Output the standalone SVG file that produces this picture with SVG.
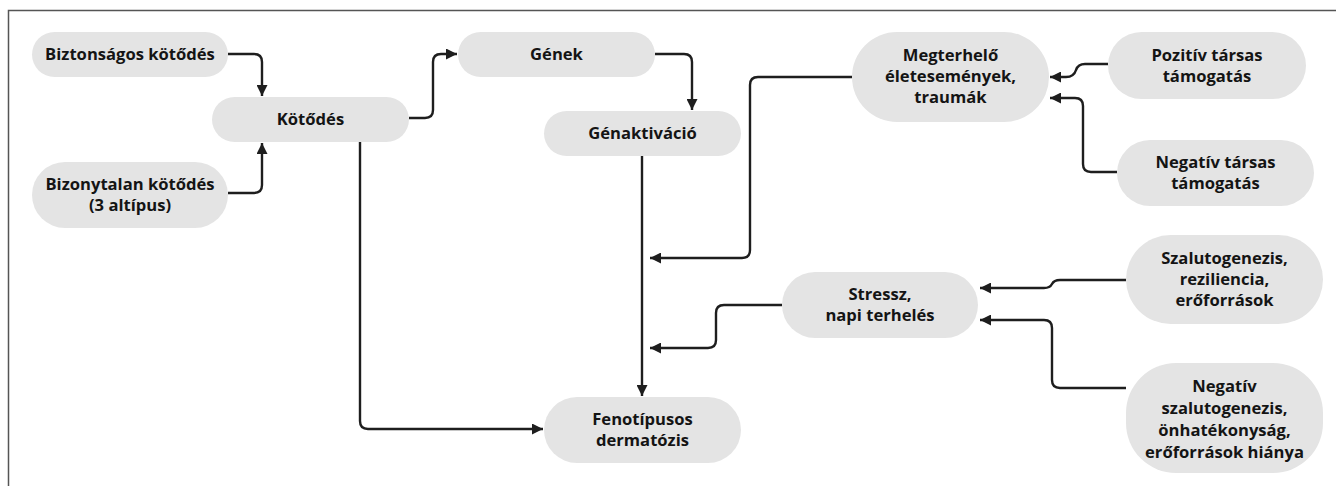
<svg xmlns="http://www.w3.org/2000/svg" width="1336" height="486" viewBox="0 0 1336 486">
<style>
.n{fill:#e4e4e4}
.t{font-family:"Open Sans","Noto Sans",sans-serif;font-weight:bold;font-size:16.6px;fill:#141414;text-anchor:middle}
.c{fill:none;stroke:#1e1e1e;stroke-width:2.4}
</style>
<defs>
<marker id="a" viewBox="0 0 10 10" refX="10" refY="5" markerWidth="12" markerHeight="11" markerUnits="userSpaceOnUse" orient="auto">
<path d="M0,0 L10,5 L0,10 z" fill="#1e1e1e"/>
</marker>
</defs>
<rect width="1336" height="486" fill="#fff"/>
<path d="M8.5,486 V10.5 H1336" fill="none" stroke="#555" stroke-width="1.5"/>
<g id="connectors">
<path class="c" marker-end="url(#a)" d="M228,54 H254 Q262,54 262,62 V96"/>
<path class="c" marker-end="url(#a)" d="M228,193 H254 Q262,193 262,185 V143"/>
<path class="c" marker-end="url(#a)" d="M409,118 H425 Q433,118 433,110 V62 Q433,54 441,54 H457"/>
<path class="c" marker-end="url(#a)" d="M655,54 H684 Q692,54 692,62 V110"/>
<path class="c" marker-end="url(#a)" d="M642,156 V396"/>
<path class="c" marker-end="url(#a)" d="M360,142 V421 Q360,429 368,429 H543"/>
<path class="c" marker-end="url(#a)" d="M852,77 H758 Q750,77 750,85 V250 Q750,258 742,258 H650"/>
<path class="c" marker-end="url(#a)" d="M782,305 H724 Q716,305 716,313 V340 Q716,348 708,348 H650"/>
<path class="c" marker-end="url(#a)" d="M1108,64 H1085 Q1078,64 1076,70 Q1074,77 1066,77 H1050"/>
<path class="c" marker-end="url(#a)" d="M1117,172 H1091 Q1083,172 1083,164 V106 Q1083,98 1075,98 H1050"/>
<path class="c" marker-end="url(#a)" d="M1126,280 H1060 Q1054,280 1052,284 Q1050,288 1044,288 H980"/>
<path class="c" marker-end="url(#a)" d="M1126,388 H1060 Q1052,388 1052,380 V328 Q1052,320 1044,320 H980"/>
</g>
<g id="biztonsagos"><rect class="n" x="32" y="32" width="196" height="45" rx="22.5"/><text class="t" x="130" y="60">Biztonságos kötődés</text></g>
<g id="bizonytalan"><rect class="n" x="32" y="162" width="196" height="66" rx="33"/><text class="t" x="130" y="189.5">Bizonytalan kötődés</text><text class="t" x="130" y="210.5">(3 altípus)</text></g>
<g id="kotodes"><rect class="n" x="212" y="97" width="197" height="45" rx="22.5"/><text class="t" x="310.5" y="125">Kötődés</text></g>
<g id="genek"><rect class="n" x="458" y="32" width="197" height="45" rx="22.5"/><text class="t" x="556.5" y="60">Gének</text></g>
<g id="genaktivacio"><rect class="n" x="544" y="111" width="197" height="45" rx="22.5"/><text class="t" x="642.5" y="139">Génaktiváció</text></g>
<g id="megterhelo"><rect class="n" x="852" y="32" width="197" height="90" rx="45"/><text class="t" x="950.5" y="60.5">Megterhelő</text><text class="t" x="950.5" y="81.5">életesemények,</text><text class="t" x="950.5" y="102.5">traumák</text></g>
<g id="pozitiv"><rect class="n" x="1108" y="32" width="198" height="67" rx="33.5"/><text class="t" x="1207" y="60.5">Pozitív társas</text><text class="t" x="1207" y="81.5">támogatás</text></g>
<g id="negativtarsas"><rect class="n" x="1117" y="140" width="197" height="66" rx="33"/><text class="t" x="1215.5" y="167.5">Negatív társas</text><text class="t" x="1215.5" y="188.5">támogatás</text></g>
<g id="szalutogenezis"><rect class="n" x="1126" y="235" width="197" height="89" rx="44.5"/><text class="t" x="1224.5" y="264">Szalutogenezis,</text><text class="t" x="1224.5" y="285">reziliencia,</text><text class="t" x="1224.5" y="306">erőforrások</text></g>
<g id="stressz"><rect class="n" x="782" y="272" width="196" height="66" rx="33"/><text class="t" x="880" y="300">Stressz,</text><text class="t" x="880" y="321">napi terhelés</text></g>
<g id="negativszalutogenezis"><rect class="n" x="1126" y="363" width="197" height="110" rx="50"/><text class="t" x="1224.5" y="392">Negatív</text><text class="t" x="1224.5" y="414">szalutogenezis,</text><text class="t" x="1224.5" y="436">önhatékonyság,</text><text class="t" x="1224.5" y="458">erőforrások hiánya</text></g>
<g id="fenotipusos"><rect class="n" x="544" y="397" width="197" height="66" rx="33"/><text class="t" x="642.5" y="425">Fenotípusos</text><text class="t" x="642.5" y="446">dermatózis</text></g>
</svg>
